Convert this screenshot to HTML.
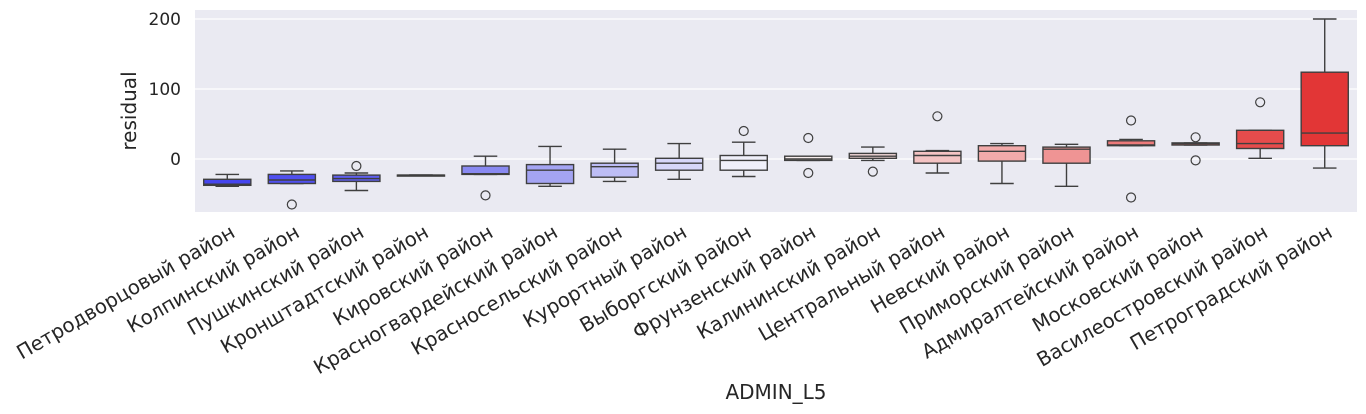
<!DOCTYPE html>
<html><head><meta charset="utf-8"><style>
body{margin:0;background:#fff;}
svg{display:block;font-family:"DejaVu Sans","Liberation Sans",sans-serif;}
</style></head><body>
<svg id="c" width="1366" height="414"></svg>
<script>
const categories=["Петродворцовый район","Колпинский район","Пушкинский район","Кронштадтский район","Кировский район","Красногвардейский район","Красносельский район","Курортный район","Выборгский район","Фрунзенский район","Калининский район","Центральный район","Невский район","Приморский район","Адмиралтейский район","Московский район","Василеостровский район","Петроградский район"];
const whiskerLow=[-39,-35,-45,-23,-22,-39,-32,-29,-25,-2,-2,-20,-35,-39,19,20,1,-13];
const q1=[-37.6,-35,-32,-23,-22,-35,-26,-16,-16,-2,1,-6,-3,-6,19,20,15,19];
const median=[-36,-30,-28,-23,-21,-16,-11,-6,-2,0,4,5,11,14,20,22,22,37];
const q3=[-29,-22,-23,-23,-10,-8,-6,1,5,4,8,11,19,17,26,23,41,124];
const whiskerHigh=[-22,-17,-20,-23,4,18,14,22,24,4,17,12,22,21,28,23,41,200];
const outliers=[[],[-65],[-10],[],[-52],[],[],[],[40],[30,-20],[-18],[61],[],[],[55,-55],[31,-2],[81],[]];
const yTicks=[0,100,200];
const colors=["#4646ef","#5050ef","#5f5fef","#7171f0","#8989f1","#a4a4f3","#bdbdf5","#d6d6f8","#f0f0fa","#f8eeee","#f5dada","#f4c3c3","#f2aaaa","#ef9494","#ec7a7a","#e96464","#e64c4c","#e23636"];
const X0=195,X1=1357,Y0=10,Y1=212;
const ns="http://www.w3.org/2000/svg";
const svg=document.getElementById('c');
const slot=(X1-X0)/categories.length;
const xs=i=>X0+slot*(i+0.5);
const ys=v=>159-v*0.7;
function el(t,a,p){const e=document.createElementNS(ns,t);for(const k in a)e.setAttribute(k,a[k]);(p||svg).appendChild(e);return e;}
const bg=el('rect',{x:X0,y:Y0,width:X1-X0,height:Y1-Y0,fill:'#eaeaf2'});


yTicks.forEach(t=>{
 const g=el('line',{x1:X0,x2:X1,y1:ys(t),y2:ys(t),stroke:'#fff','stroke-width':1.3});
 
 
 const tx=el('text',{x:X0-14,y:ys(t)+6,'text-anchor':'end','font-size':17,fill:'#262626'});
 tx.textContent=t;
 
 
});
const bw=slot*0.73;
categories.forEach((c,i)=>{
 const cx=xs(i);
 const g=el('g',{});
 
 
 const st={stroke:'#3f3f3f','stroke-width':1.4};
 el('line',Object.assign({x1:cx,x2:cx,y1:ys(whiskerHigh[i]),y2:ys(q3[i])},st),g);
 el('line',Object.assign({x1:cx,x2:cx,y1:ys(q1[i]),y2:ys(whiskerLow[i])},st),g);
 el('line',Object.assign({x1:cx-bw/4,x2:cx+bw/4,y1:ys(whiskerHigh[i]),y2:ys(whiskerHigh[i])},st),g);
 el('line',Object.assign({x1:cx-bw/4,x2:cx+bw/4,y1:ys(whiskerLow[i]),y2:ys(whiskerLow[i])},st),g);
 el('rect',Object.assign({x:cx-bw/2,y:ys(q3[i]),width:bw,height:Math.max(1,ys(q1[i])-ys(q3[i])),fill:colors[i]},st),g);
 el('line',Object.assign({x1:cx-bw/2,x2:cx+bw/2,y1:ys(median[i]),y2:ys(median[i])},st),g);
 outliers[i].forEach(o=>{
  const p=el('circle',{cx:cx,cy:ys(o),r:4.5,fill:'none',stroke:'#3f3f3f','stroke-width':1.2},g);
  
  
 });
 const lx=cx+9,ly=236;
 const t=el('text',{x:lx,y:ly,'text-anchor':'end','font-size':19.8,fill:'#262626',transform:`rotate(-30 ${lx} ${ly})`});
 t.textContent=c;
 
 
});
const xl=el('text',{x:(X0+X1)/2,y:399,'text-anchor':'middle','font-size':20,fill:'#262626'});
xl.textContent='ADMIN_L5';


const yl=el('text',{x:136,y:111,'text-anchor':'middle','font-size':20,fill:'#262626',transform:'rotate(-90 136 111)'});
yl.textContent='residual';


</script>
</body></html>
